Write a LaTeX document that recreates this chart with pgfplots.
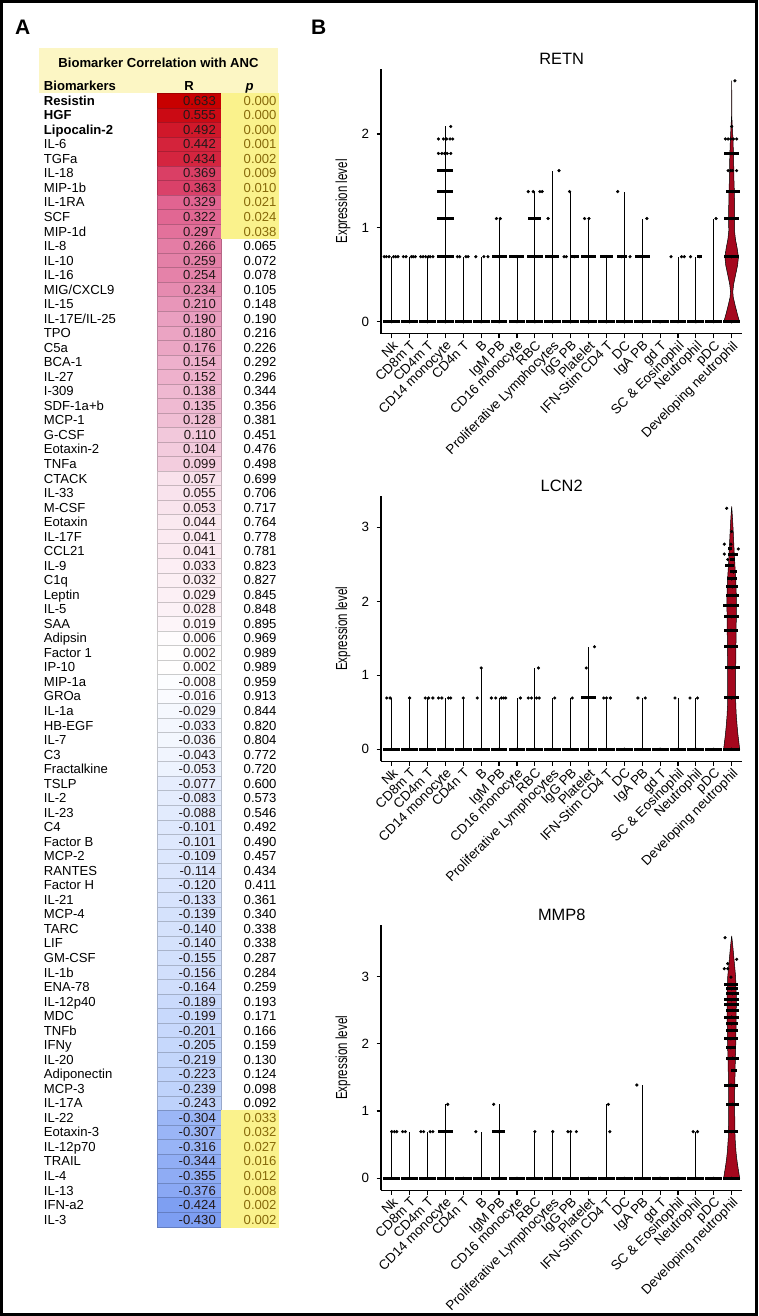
\documentclass[border=0pt]{standalone}
\usepackage{fontspec}
\setmainfont{Liberation Sans}
\newfontfamily\narrowfont[FakeStretch=0.72]{Liberation Sans}
\usepackage{pgfplots}
\pgfplotsset{compat=1.18}
\usepackage{pgfplotstable}

\definecolor{vred}{RGB}{165,8,30}
\definecolor{pyel}{RGB}{250,242,140}
\definecolor{hdr}{RGB}{252,246,196}
\definecolor{ptext}{RGB}{135,105,10}
\definecolor{rtext}{RGB}{35,25,25}

\newcommand\tabfont{\fontsize{13.1}{15}\selectfont}
\newcommand\tickfont{\fontsize{13.4}{15}\selectfont}

% biomarker correlation with ANC
\pgfplotstableread[col sep=comma]{
idx,bm,R,p
1,Resistin,0.633,0.000
2,HGF,0.555,0.000
3,Lipocalin-2,0.492,0.000
4,IL-6,0.442,0.001
5,TGFa,0.434,0.002
6,IL-18,0.369,0.009
7,MIP-1b,0.363,0.010
8,IL-1RA,0.329,0.021
9,SCF,0.322,0.024
10,MIP-1d,0.297,0.038
11,IL-8,0.266,0.065
12,IL-10,0.259,0.072
13,IL-16,0.254,0.078
14,MIG/CXCL9,0.234,0.105
15,IL-15,0.210,0.148
16,IL-17E/IL-25,0.190,0.190
17,TPO,0.180,0.216
18,C5a,0.176,0.226
19,BCA-1,0.154,0.292
20,IL-27,0.152,0.296
21,I-309,0.138,0.344
22,SDF-1a+b,0.135,0.356
23,MCP-1,0.128,0.381
24,G-CSF,0.110,0.451
25,Eotaxin-2,0.104,0.476
26,TNFa,0.099,0.498
27,CTACK,0.057,0.699
28,IL-33,0.055,0.706
29,M-CSF,0.053,0.717
30,Eotaxin,0.044,0.764
31,IL-17F,0.041,0.778
32,CCL21,0.041,0.781
33,IL-9,0.033,0.823
34,C1q,0.032,0.827
35,Leptin,0.029,0.845
36,IL-5,0.028,0.848
37,SAA,0.019,0.895
38,Adipsin,0.006,0.969
39,Factor 1,0.002,0.989
40,IP-10,0.002,0.989
41,MIP-1a,-0.008,0.959
42,GROa,-0.016,0.913
43,IL-1a,-0.029,0.844
44,HB-EGF,-0.033,0.820
45,IL-7,-0.036,0.804
46,C3,-0.043,0.772
47,Fractalkine,-0.053,0.720
48,TSLP,-0.077,0.600
49,IL-2,-0.083,0.573
50,IL-23,-0.088,0.546
51,C4,-0.101,0.492
52,Factor B,-0.101,0.490
53,MCP-2,-0.109,0.457
54,RANTES,-0.114,0.434
55,Factor H,-0.120,0.411
56,IL-21,-0.133,0.361
57,MCP-4,-0.139,0.340
58,TARC,-0.140,0.338
59,LIF,-0.140,0.338
60,GM-CSF,-0.155,0.287
61,IL-1b,-0.156,0.284
62,ENA-78,-0.164,0.259
63,IL-12p40,-0.189,0.193
64,MDC,-0.199,0.171
65,TNFb,-0.201,0.166
66,IFNy,-0.205,0.159
67,IL-20,-0.219,0.130
68,Adiponectin,-0.223,0.124
69,MCP-3,-0.239,0.098
70,IL-17A,-0.243,0.092
71,IL-22,-0.304,0.033
72,Eotaxin-3,-0.307,0.032
73,IL-12p70,-0.316,0.027
74,TRAIL,-0.344,0.016
75,IL-4,-0.355,0.012
76,IL-13,-0.376,0.008
77,IFN-a2,-0.424,0.002
78,IL-3,-0.430,0.002
}\anc

\pgfplotsset{
  vio/.style={
    scale only axis, width=361.4pt, height=265pt,
    xmin=0.4, xmax=20.6,
    axis lines*=left,
    axis line style={line width=1.2pt, black},
    tick align=outside, major tick length=4.5pt,
    tick style={line width=1.2pt, black},
    xtick={1,...,20},
    xticklabels={Nk, CD8m T, CD4m T, CD14 monocyte, CD4n T, B, IgM PB,
      CD16 monocyte, RBC, Proliferative Lymphocytes, IgG PB, Platelet,
      IFN-Stim CD4 T, DC, IgA PB, gd T, SC \& Eosinophil, Neutrophil, pDC,
      Developing neutrophil},
    xticklabel style={rotate=45, anchor=north east, inner sep=1pt},
    yticklabel style={xshift=-4pt},
    every tick label/.append style={font=\tickfont},
    /pgf/number format/assume math mode=true,
    ylabel={Expression level},
    every axis y label/.style={at={(axis description cs:0,0.5)},
      xshift=-38pt, rotate=90, anchor=center,
      font=\narrowfont\fontsize{16}{18}\selectfont},
    every axis title/.style={at={(axis description cs:0.5,1)}, anchor=center,
      yshift=10pt, font=\fontsize{16.4}{18}\selectfont},
  },
  combs/.style={ycomb, black, line width=0.8pt, mark=none},
  dots/.style={only marks, mark=*, mark size=1.4pt, black,
    error bars/.cd, x dir=both, x explicit, error mark=none,
    error bar style={line width=3pt, black}},
  violin/.style={fill=vred, draw=black, line width=0.5pt},
}

\begin{document}
\begin{tikzpicture}
\path[use as bounding box] (0,0) rectangle (758pt,-1316pt);

% panel A header
\fill[hdr] (38.7pt,-48.3pt) rectangle (278.3pt,-93.3pt);
\node[font=\tabfont\bfseries, anchor=center] at (158.5pt,-63pt) {Biomarker Correlation with ANC};
\node[font=\tabfont\bfseries, anchor=base west, inner sep=0pt] at (43.7pt,-90.5pt) {Biomarkers};
\node[font=\tabfont\bfseries, anchor=base, inner sep=0pt] at (189.2pt,-90.5pt) {R};
\node[font=\tabfont\bfseries\itshape, anchor=base, inner sep=0pt] at (249.7pt,-90.5pt) {p};
\node[font=\fontsize{21}{22}\selectfont\bfseries, anchor=base west, inner sep=0pt] at (15pt,-35pt) {A};
\node[font=\fontsize{21}{22}\selectfont\bfseries, anchor=base west, inner sep=0pt] at (311pt,-35pt) {B};

\begin{axis}[
    at={(0pt,-93.3pt)}, anchor=north west,
    scale only axis, width=300pt, height=1133.4pt,
    xmin=0, xmax=300, ymin=0.5, ymax=78.5, y dir=reverse,
    hide axis, clip=false,
    point meta min=-0.43, point meta max=0.633,
    colormap={anc}{rgb255(0pt)=(125,158,242) rgb255(126pt)=(155,182,246)
      rgb255(187pt)=(190,210,251) rgb255(330pt)=(222,232,253)
      rgb255(430pt)=(255,255,255) rgb255(487pt)=(249,226,236)
      rgb255(530pt)=(243,205,222) rgb255(580pt)=(238,178,205)
      rgb255(640pt)=(232,150,185) rgb255(696pt)=(228,125,165)
      rgb255(759pt)=(225,100,145) rgb255(793pt)=(218,65,105)
      rgb255(870pt)=(212,35,60) rgb255(985pt)=(203,10,20)
      rgb255(1063pt)=(200,0,0)},
]
% R cells
\addplot[scatter, only marks, mark=square*, mark size=7.35pt,
  mark options={xscale=4.333}, point meta=explicit]
  table[x expr=189.15, y=idx, meta=R] {\anc};
% significant p cells
\addplot[only marks, mark=square*, mark size=7.35pt,
  mark options={xscale=3.898, fill=pyel, draw=pyel},
  restrict expr to domain={\thisrow{p}}{-1:0.049}]
  table[x expr=249.65, y=idx] {\anc};
% R values
\addplot[only marks, mark=none, point meta=explicit,
  nodes near coords={\pgfmathprintnumber[fixed,fixed zerofill,precision=3,assume math mode=true]{\pgfplotspointmeta}},
  every node near coord/.append style={anchor=base east, yshift=-4.7pt,
    font=\tabfont, text=rtext, inner sep=0pt}]
  table[x expr=216, y=idx, meta=R] {\anc};
% p values
\addplot[only marks, mark=none, point meta=explicit,
  restrict expr to domain={\thisrow{p}}{-1:0.049},
  nodes near coords={\pgfmathprintnumber[fixed,fixed zerofill,precision=3,assume math mode=true]{\pgfplotspointmeta}},
  every node near coord/.append style={anchor=base east, yshift=-4.7pt,
    font=\tabfont, text=ptext, inner sep=0pt}]
  table[x expr=276.7, y=idx, meta=p] {\anc};
\addplot[only marks, mark=none, point meta=explicit,
  restrict expr to domain={\thisrow{p}}{0.05:2},
  nodes near coords={\pgfmathprintnumber[fixed,fixed zerofill,precision=3,assume math mode=true]{\pgfplotspointmeta}},
  every node near coord/.append style={anchor=base east, yshift=-4.7pt,
    font=\tabfont, text=black, inner sep=0pt}]
  table[x expr=276.7, y=idx, meta=p] {\anc};
% names
\addplot[only marks, mark=none, point meta=explicit symbolic,
  restrict y to domain=1:3,
  nodes near coords={\pgfplotspointmeta},
  every node near coord/.append style={anchor=base west, yshift=-4.7pt,
    font=\tabfont\bfseries, text=black, inner sep=0pt}]
  table[x expr=43.7, y=idx, meta=bm] {\anc};
\addplot[only marks, mark=none, point meta=explicit symbolic,
  restrict y to domain=4:78,
  nodes near coords={\pgfplotspointmeta},
  every node near coord/.append style={anchor=base west, yshift=-4.7pt,
    font=\tabfont, text=black, inner sep=0pt}]
  table[x expr=43.7, y=idx, meta=bm] {\anc};
\end{axis}

% RETN
\begin{axis}[vio, at={(381pt,-333.8pt)}, anchor=south west,
    ymin=-0.128, ymax=2.693, ytick={0,1,2}, title={RETN}]
\addplot[violin] coordinates {(20.44,0) (20.32,0.08) (20.2,0.17) (20.09,0.26)
  (20.065,0.32) (20.11,0.40) (20.22,0.50) (20.33,0.60) (20.38,0.69) (20.31,0.78)
  (20.21,0.88) (20.16,0.97) (20.17,1.06) (20.17,1.15) (20.16,1.29) (20.15,1.39)
  (20.13,1.50) (20.12,1.61) (20.11,1.72) (20.10,1.79) (20.075,1.93) (20.05,2.03)
  (20.025,2.12) (20.008,2.19) (20.003,2.565) (19.997,2.565) (19.992,2.19)
  (19.975,2.12) (19.95,2.03) (19.925,1.93) (19.90,1.79) (19.89,1.72) (19.88,1.61)
  (19.87,1.50) (19.85,1.39) (19.84,1.29) (19.83,1.15) (19.83,1.06) (19.84,0.97)
  (19.79,0.88) (19.69,0.78) (19.62,0.69) (19.67,0.60) (19.78,0.50) (19.89,0.40)
  (19.935,0.32) (19.91,0.26) (19.8,0.17) (19.68,0.08) (19.56,0)} -- cycle;
\addplot[combs] coordinates {(1,0.693) (2,0.693) (3,0.693) (4,2.079) (5,0.693)
  (6,0.693) (7,1.099) (8,0.693) (9,1.386) (10,1.609) (11,1.386) (12,1.099)
  (13,0.693) (14,1.386) (15,1.099) (17,0.693) (18,0.693) (19,1.099)};
\addplot[dots] table[x=x, y=y, x error=e] {
x y e
1 0 0.47
2 0 0.47
3 0 0.47
4 0 0.47
5 0 0.47
6 0 0.47
7 0 0.47
8 0 0.47
9 0 0.47
10 0 0.47
11 0 0.47
12 0 0.47
13 0 0.47
14 0 0.47
15 0 0.47
16 0 0.47
17 0 0.47
18 0 0.47
19 0 0.47
20 0 0.47
0.58 0.693 0
0.70 0.693 0
0.85 0.693 0
1.10 0.693 0
1.22 0.693 0
1.35 0.693 0
1.65 0.693 0
1.80 0.693 0
2.10 0.693 0
2.20 0.693 0
2.32 0.693 0
2.62 0.693 0
2.75 0.693 0
2.90 0.693 0
3.05 0.693 0
3.15 0.693 0
3.30 0.693 0
4 0.693 0.46
4.67 0.693 0
4.80 0.693 0
5.15 0.693 0
5.27 0.693 0
5.70 0.693 0
6.15 0.693 0
6.38 0.693 0
7 0.693 0.42
8 0.693 0.42
9 0.693 0.45
9.95 0.693 0.39
10.63 0.693 0
10.76 0.693 0
11.2 0.693 0.24
12 0.693 0.42
13 0.693 0.37
13.85 0.693 0.28
14.32 0.693 0
15 0.693 0.42
16.61 0.693 0
17.2 0.693 0
17.35 0.693 0
17.7 0.693 0
18.22 0.693 0.14
19.99 0.693 0.44
4 1.099 0.46
6.85 1.099 0
7.07 1.099 0
9 1.099 0.36
9.74 1.099 0
11.78 1.099 0
12.02 1.099 0
15.26 1.099 0
19.13 1.099 0
20.01 1.099 0.42
4 1.386 0.45
8.63 1.386 0
8.91 1.386 0
9.28 1.386 0
9.41 1.386 0
10.94 1.386 0
13.63 1.386 0
20.05 1.386 0.39
4 1.609 0.45
10.35 1.609 0
19.80 1.609 0
19.95 1.609 0
20.05 1.609 0
20.28 1.609 0
3.61 1.792 0
3.80 1.792 0
3.95 1.792 0
4.10 1.792 0
4.30 1.792 0
20 1.792 0.43
3.61 1.946 0
3.89 1.946 0
4.07 1.946 0
4.26 1.946 0
4.41 1.946 0
19.65 1.946 0
19.80 1.946 0
19.95 1.946 0
20.10 1.946 0
20.28 1.946 0
4.30 2.079 0
20.0 2.079 0
20.18 2.565 0
};
\end{axis}

% LCN2
\begin{axis}[vio, at={(381pt,-761.3pt)}, anchor=south west,
    ymin=-0.163, ymax=3.42, ytick={0,1,2,3}, title={LCN2}]
\addplot[violin] coordinates {(20.45,0) (20.40,0.1) (20.35,0.2) (20.31,0.3)
  (20.26,0.45) (20.23,0.6) (20.22,0.74) (20.22,1.0) (20.24,1.4) (20.26,1.8)
  (20.265,2.05) (20.23,2.3) (20.19,2.45) (20.15,2.63) (20.115,2.8) (20.075,3.0)
  (20.04,3.15) (20.003,3.28) (19.997,3.28) (19.96,3.15) (19.925,3.0) (19.885,2.8)
  (19.85,2.63) (19.81,2.45) (19.77,2.3) (19.735,2.05) (19.74,1.8) (19.76,1.4)
  (19.78,1.0) (19.78,0.74) (19.77,0.6) (19.74,0.45) (19.69,0.3) (19.65,0.2)
  (19.60,0.1) (19.55,0)} -- cycle;
\addplot[combs] coordinates {(1,0.693) (2,0.693) (3,0.693) (4,0.693) (5,0.693)
  (6,1.099) (7,0.693) (8,0.693) (9,1.099) (10,0.693) (11,0.693) (12,1.386)
  (13,0.693) (15,0.693) (17,0.693) (18,0.693)};
\addplot[dots] table[x=x, y=y, x error=e] {
x y e
1 0 0.47
2 0 0.47
3 0 0.47
4 0 0.47
5 0 0.47
6 0 0.47
7 0 0.47
8 0 0.47
9 0 0.47
10 0 0.47
11 0 0.47
12 0 0.47
13 0 0.47
14 0 0.47
15 0 0.47
16 0 0.47
17 0 0.47
18 0 0.47
19 0 0.47
20 0 0.47
0.72 0.693 0
0.91 0.693 0
2.0 0.693 0
2.87 0.693 0
3.06 0.693 0
3.30 0.693 0
3.61 0.693 0
3.80 0.693 0
4.17 0.693 0
4.30 0.693 0
5.0 0.693 0
5.78 0.693 0
6.57 0.693 0
6.81 0.693 0
7.13 0.693 0
7.26 0.693 0
7.37 0.693 0
8.19 0.693 0
8.63 0.693 0
8.81 0.693 0
9.09 0.693 0
9.24 0.693 0
10.11 0.693 0
11.09 0.693 0
12 0.693 0.42
12.85 0.693 0
13.0 0.693 0
13.22 0.693 0
14.76 0.693 0
15.17 0.693 0
16.83 0.693 0
17.67 0.693 0
18.09 0.693 0
20 0.693 0.43
6.0 1.099 0
9.2 1.099 0
11.87 1.099 0
20.02 1.099 0.42
12.33 1.386 0
19.96 1.386 0.38
19.96 1.609 0.37
20 1.792 0.42
19.96 1.946 0.43
20.04 2.079 0.36
20.04 2.197 0.34
20.0 2.303 0.28
20.1 2.398 0.21
19.87 2.485 0.26
19.78 2.565 0
20.05 2.565 0.14
19.59 2.639 0
20.07 2.639 0.28
19.91 2.708 0.11
20.37 2.708 0
19.59 2.773 0
19.96 2.773 0
20.0 2.944 0
19.72 3.258 0
};
\end{axis}

% MMP8
\begin{axis}[vio, at={(381pt,-1190.3pt)}, anchor=south west,
    ymin=-0.179, ymax=3.76, ytick={0,1,2,3}, title={MMP8}]
\addplot[violin] coordinates {(20.45,0) (20.39,0.1) (20.33,0.2) (20.28,0.3)
  (20.24,0.4) (20.19,0.6) (20.175,0.8) (20.17,1.0) (20.17,1.3) (20.2,1.7)
  (20.23,2.0) (20.25,2.3) (20.26,2.7) (20.22,3.0) (20.15,3.2) (20.075,3.42)
  (20.003,3.6) (19.997,3.6) (19.925,3.42) (19.85,3.2) (19.78,3.0) (19.74,2.7)
  (19.75,2.3) (19.77,2.0) (19.8,1.7) (19.83,1.3) (19.83,1.0) (19.825,0.8)
  (19.81,0.6) (19.76,0.4) (19.72,0.3) (19.67,0.2) (19.61,0.1) (19.55,0)} -- cycle;
\addplot[combs] coordinates {(1,0.693) (2,0.693) (3,0.693) (4,1.099) (6,0.693)
  (7,1.099) (9,0.693) (10,0.693) (11,0.693) (13,1.099) (15,1.386) (18,0.693)};
\addplot[dots] table[x=x, y=y, x error=e] {
x y e
1 0 0.47
2 0 0.47
3 0 0.47
4 0 0.47
5 0 0.47
6 0 0.47
7 0 0.47
8 0 0.47
9 0 0.47
10 0 0.47
11 0 0.47
12 0 0.47
13 0 0.47
14 0 0.47
15 0 0.47
16 0 0.47
17 0 0.47
18 0 0.47
19 0 0.47
20 0 0.47
1.0 0.693 0
1.15 0.693 0
1.28 0.693 0
1.61 0.693 0
1.76 0.693 0
2.63 0.693 0
2.78 0.693 0
3.15 0.693 0
3.30 0.693 0
4 0.693 0.40
5.70 0.693 0
6.96 0.693 0.35
9.0 0.693 0
10.0 0.693 0
10.85 0.693 0
11.0 0.693 0
11.32 0.693 0
13.19 0.693 0
17.85 0.693 0
18.09 0.693 0
19.98 0.693 0.40
4.13 1.099 0
6.70 1.099 0
13.11 1.099 0
20.05 1.099 0.37
14.70 1.386 0
19.96 1.386 0.37
20.12 1.601 0.16
20.05 1.785 0.37
19.96 1.939 0.28
19.96 2.073 0.37
20.0 2.197 0.33
20.0 2.296 0.33
20.0 2.396 0.42
20.04 2.495 0.37
20.0 2.584 0.42
20.0 2.653 0.42
20.04 2.743 0.37
20.0 2.817 0.33
19.96 2.882 0.37
19.96 2.99 0
19.59 3.115 0
19.78 3.115 0
19.78 3.19 0
20.28 3.254 0
19.63 3.576 0
};
\end{axis}

% outer frame
\draw[line width=2.6pt, black] (1.3pt,-1.3pt) rectangle (756.7pt,-1314.7pt);
\end{tikzpicture}
\end{document}
